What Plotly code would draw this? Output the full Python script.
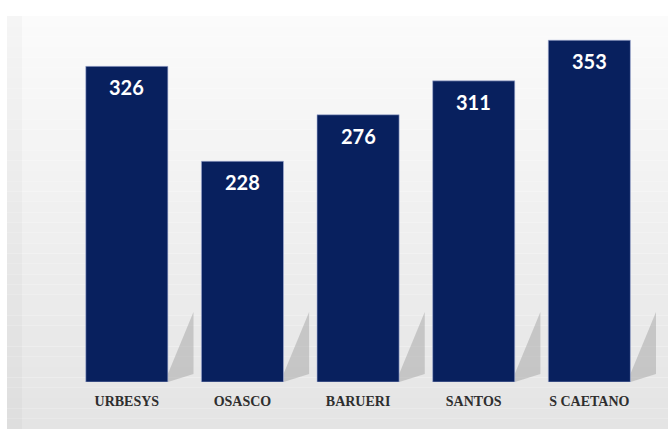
import plotly.graph_objects as go

# Data
cities = ["URBESYS", "OSASCO", "BARUERI", "SANTOS", "S CAETANO"]
values = [326, 228, 276, 311, 353]

BAR_COLOR = "#08205e"
W, H = 668, 429
M_L, M_R, M_T, M_B = 69, 12, 16, 47
Y_MAX = 378
BARGAP = 0.29

fig = go.Figure(
    go.Bar(
        x=cities,
        y=values,
        marker=dict(color=BAR_COLOR, line=dict(color="#aab4d8", width=0.6)),
        hoverinfo="x+y",
    )
)

shapes = []

# soft vertical gradient behind the chart (paper coords relative to plot area)
plot_w = W - M_L - M_R
plot_h = H - M_T - M_B
x0p = (7 - M_L) / plot_w
x1p = (W - M_L) / plot_w
y_top = 1.0
y_bot = -M_B / plot_h
n = 40
c_top, c_bot = 251, 228
for k in range(n):
    t0 = k / n
    t1 = (k + 1) / n
    c = round(c_top + (c_bot - c_top) * (t0 + t1) / 2)
    shapes.append(dict(
        type="rect", xref="paper", yref="paper", layer="below",
        x0=x0p, x1=x1p,
        y0=y_top + (y_bot - y_top) * t1, y1=y_top + (y_bot - y_top) * t0,
        fillcolor=f"rgb({c},{c},{c})", line=dict(width=0),
    ))

# faint darker band along the left edge of the backdrop
shapes.append(dict(
    type="rect", xref="paper", yref="paper", layer="below",
    x0=x0p, x1=(22 - M_L) / plot_w, y0=y_bot, y1=y_top,
    fillcolor="rgba(0,0,0,0.025)", line=dict(width=0),
))

# slanted drop shadows to the right of each bar
half = (1 - BARGAP) / 2
px_per_unit = plot_h / Y_MAX
cat_px = plot_w / len(cities)
dx = 26 / cat_px
for i, _ in enumerate(cities):
    xr = i + half
    y_low = 8 / px_per_unit
    y_high = 70 / px_per_unit
    path = (f"M {xr} 0 L {xr} {y_low} L {xr + dx} {y_high} "
            f"L {xr + dx} {y_low} Z")
    shapes.append(dict(
        type="path", xref="x", yref="y", layer="below", path=path,
        fillcolor="rgba(150,150,150,0.42)", line=dict(width=0),
    ))

# value labels near the top of each bar
annotations = [
    dict(x=c, y=v, text=str(v), showarrow=False, yanchor="middle", yshift=-21,
         font=dict(family="Lato", size=20, color="white", weight="bold"))
    for c, v in zip(cities, values)
]

fig.update_layout(
    autosize=False,
    width=W, height=H,
    margin=dict(l=M_L, r=M_R, t=M_T, b=M_B, autoexpand=False),
    paper_bgcolor="white",
    plot_bgcolor="rgba(0,0,0,0)",
    bargap=BARGAP,
    showlegend=False,
    shapes=shapes,
    annotations=annotations,
    xaxis=dict(
        showgrid=False, zeroline=False, showline=False,
        ticks="outside", ticklen=6, tickcolor="rgba(0,0,0,0)",
        tickfont=dict(family="Liberation Serif", size=14, color="#2e2e2e",
                      weight="bold"),
    ),
    yaxis=dict(range=[0, Y_MAX], visible=False),
)

fig.write_html("out.html")
